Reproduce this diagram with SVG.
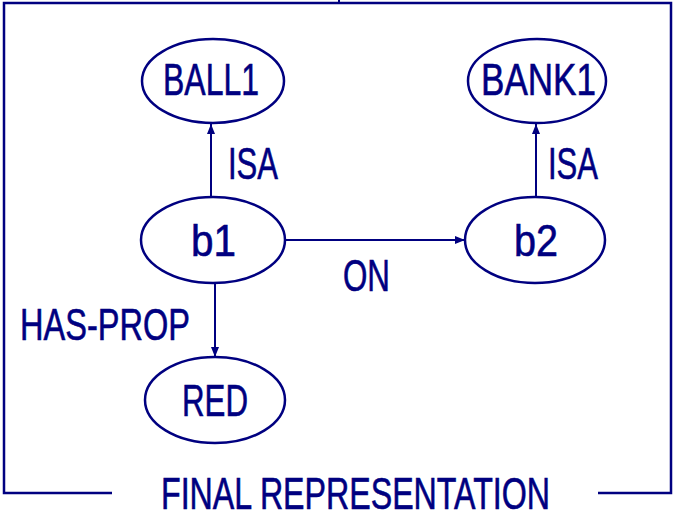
<svg xmlns="http://www.w3.org/2000/svg" width="675" height="515" viewBox="0 0 675 515">
<defs>
<style>
.n{fill:none;stroke:#000080;stroke-width:2.5}
.t{font-family:"Liberation Sans","DejaVu Sans",sans-serif;font-size:44px;fill:#000080;stroke:#000080;stroke-width:0.6;text-anchor:start}
.c{stroke:#000080;stroke-width:2;fill:none}
</style>
<marker id="ah" viewBox="0 0 10 8" refX="10" refY="4" markerWidth="10" markerHeight="8" markerUnits="userSpaceOnUse" orient="auto">
<path d="M0,0L10,4L0,8z" fill="#000080"/>
</marker>
</defs>
<rect width="675" height="515" fill="#fff"/>
<g id="frame">
<path class="n" d="M112,493H4V3H671V493H598"/>
<line x1="339" y1="0" x2="339" y2="3" stroke="#000080" stroke-width="2"/>
<text class="t" x="161" y="509" textLength="389" lengthAdjust="spacingAndGlyphs">FINAL REPRESENTATION</text>
</g>
<g id="connectors">
<line class="c" x1="211" y1="197" x2="211" y2="124" marker-end="url(#ah)"/>
<line class="c" x1="536" y1="197" x2="536" y2="124" marker-end="url(#ah)"/>
<line class="c" x1="285" y1="240" x2="465" y2="240" marker-end="url(#ah)"/>
<line class="c" x1="215" y1="283" x2="215" y2="357" marker-end="url(#ah)"/>
<text class="t" x="228" y="179" textLength="50" lengthAdjust="spacingAndGlyphs">ISA</text>
<text class="t" x="548" y="179" textLength="50" lengthAdjust="spacingAndGlyphs">ISA</text>
<text class="t" x="343" y="291" textLength="47" lengthAdjust="spacingAndGlyphs">ON</text>
<text class="t" x="20" y="340" textLength="170" lengthAdjust="spacingAndGlyphs">HAS-PROP</text>
</g>
<g id="BALL1">
<ellipse class="n" cx="213" cy="81" rx="71" ry="42"/>
<text class="t" x="163" y="95" textLength="96" lengthAdjust="spacingAndGlyphs">BALL1</text>
</g>
<g id="BANK1">
<ellipse class="n" cx="537" cy="81" rx="69" ry="42"/>
<text class="t" x="481" y="95" textLength="115" lengthAdjust="spacingAndGlyphs">BANK1</text>
</g>
<g id="b1">
<ellipse class="n" cx="213" cy="240" rx="72" ry="43"/>
<text class="t" x="191" y="256" textLength="45" lengthAdjust="spacingAndGlyphs">b1</text>
</g>
<g id="b2">
<ellipse class="n" cx="535" cy="240" rx="70" ry="43"/>
<text class="t" x="514" y="256" textLength="44" lengthAdjust="spacingAndGlyphs">b2</text>
</g>
<g id="RED">
<ellipse class="n" cx="215" cy="400" rx="70" ry="43"/>
<text class="t" x="182" y="416" textLength="66" lengthAdjust="spacingAndGlyphs">RED</text>
</g>
</svg>
